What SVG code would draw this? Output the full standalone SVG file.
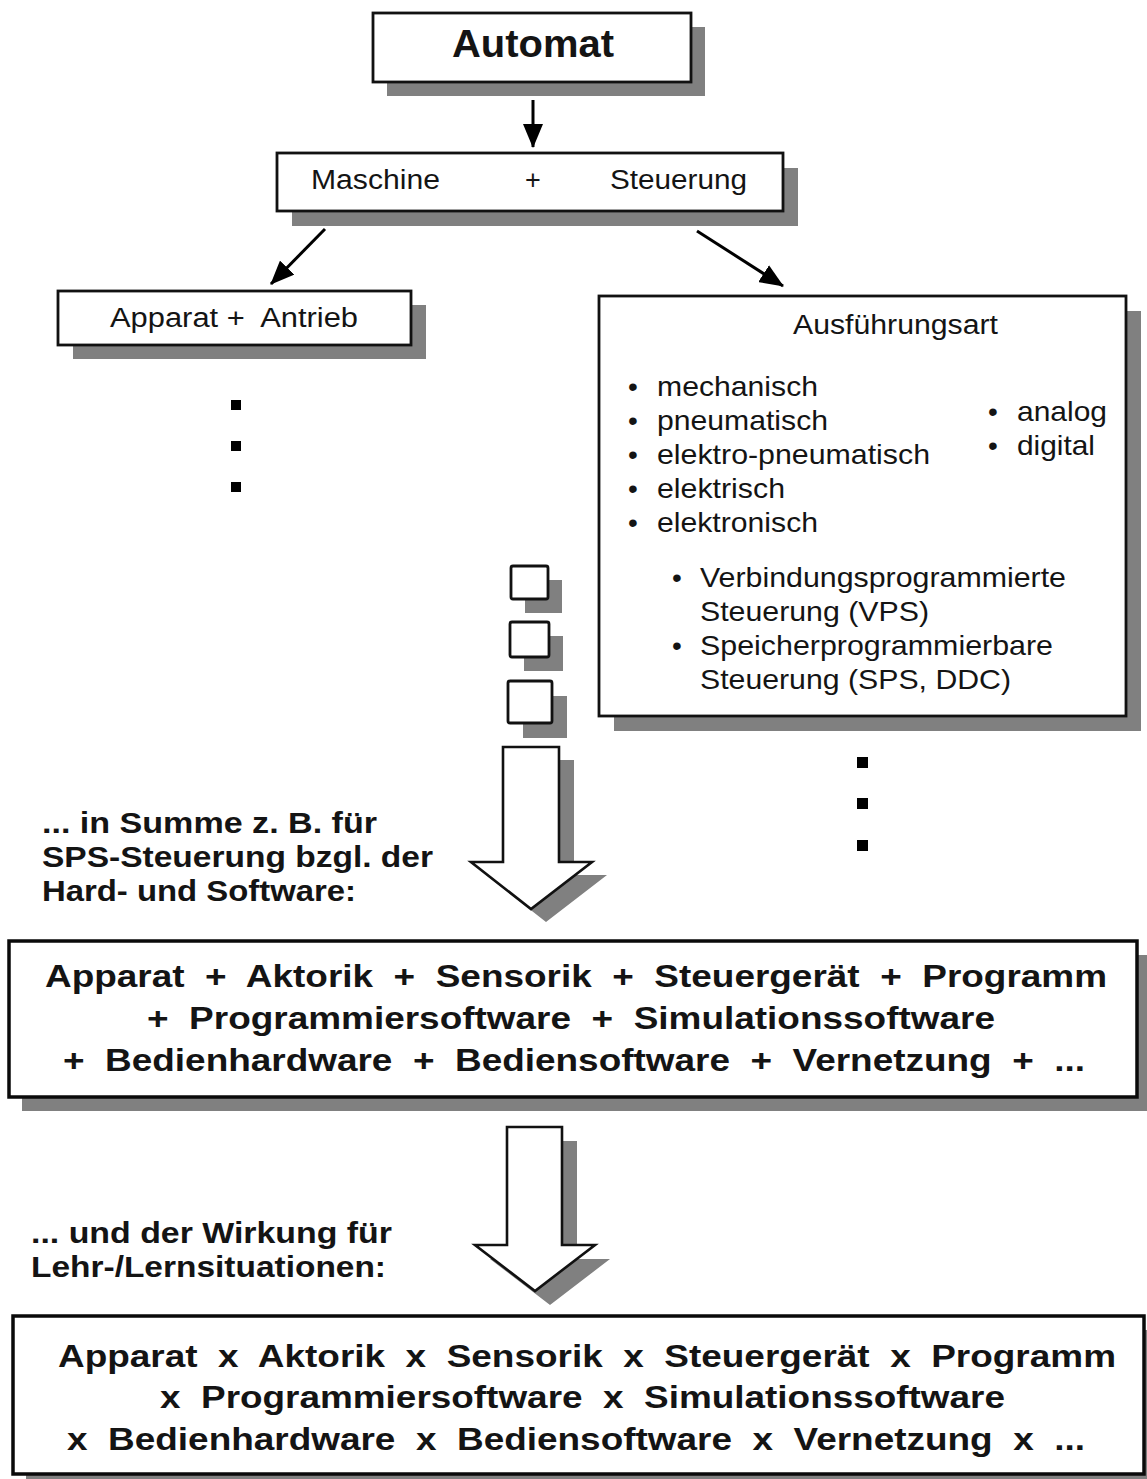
<svg xmlns="http://www.w3.org/2000/svg" width="1147" height="1479" viewBox="0 0 1147 1479">
  <style>
    .bg { fill: #ffffff; }
    .shadow { fill: #808080; stroke: none; }
    .box { fill: #ffffff; stroke: #111111; stroke-width: 2.8; }
    .bigbox { fill: #ffffff; stroke: #0a0a0a; stroke-width: 3.5; }
    .t { font-family: "Liberation Sans", Arial, Helvetica, sans-serif; fill: #141414; }
    .n27 { font-size: 27px; }
    .n28 { font-size: 28px; }
    .b30 { font-size: 30px; font-weight: bold; }
    .b31 { font-size: 31px; font-weight: bold; }
    .b38 { font-size: 38px; font-weight: bold; }
    .conn { stroke: #000000; stroke-width: 3; fill: none; }
    .dot { fill: #000000; }
    .hollow { fill: #ffffff; stroke: #111111; stroke-width: 2.6; stroke-linejoin: miter; }
  </style>
  <defs>
    <marker id="head" viewBox="0 0 24 20" refX="23" refY="10" markerWidth="24" markerHeight="20" markerUnits="userSpaceOnUse" orient="auto">
      <path d="M0,0 L24,10 L0,20 z" fill="#000000"/>
    </marker>
  </defs>

  <rect class="bg" x="0" y="0" width="1147" height="1479"/>

  <!-- top node -->
  <g id="node-automat">
    <rect class="shadow" x="387" y="27" width="318" height="69"/>
    <rect class="box" x="373" y="13" width="318" height="69"/>
    <text class="t b38" x="452" y="57" textLength="162" lengthAdjust="spacingAndGlyphs">Automat</text>
  </g>

  <g id="node-maschine-steuerung">
    <rect class="shadow" x="292" y="168" width="506" height="58"/>
    <rect class="box" x="277" y="153" width="506" height="58"/>
    <text class="t n27" x="311" y="189" textLength="129" lengthAdjust="spacingAndGlyphs">Maschine</text>
    <text class="t n27" x="533" y="189" text-anchor="middle">+</text>
    <text class="t n27" x="610" y="189" textLength="137" lengthAdjust="spacingAndGlyphs">Steuerung</text>
  </g>

  <g id="node-apparat-antrieb">
    <rect class="shadow" x="73" y="305" width="353" height="54"/>
    <rect class="box" x="58" y="291" width="353" height="54"/>
    <text class="t n27" x="110" y="327" textLength="248" lengthAdjust="spacingAndGlyphs" xml:space="preserve">Apparat +  Antrieb</text>
  </g>

  <g id="dots-left">
    <rect class="dot" x="231" y="400" width="10" height="10"/>
    <rect class="dot" x="231" y="441" width="10" height="10"/>
    <rect class="dot" x="231" y="482" width="10" height="10"/>
  </g>

  <g id="node-ausfuehrungsart">
    <rect class="shadow" x="614" y="311" width="527" height="420"/>
    <rect class="box" x="599" y="296" width="527" height="420"/>
    <text class="t n27" x="793" y="334" textLength="205" lengthAdjust="spacingAndGlyphs">Ausführungsart</text>
    <g class="t n28">
      <text x="628" y="396">•</text>
      <text x="628" y="430">•</text>
      <text x="628" y="464">•</text>
      <text x="628" y="498">•</text>
      <text x="628" y="532">•</text>
      <text x="657" y="396" textLength="161" lengthAdjust="spacingAndGlyphs">mechanisch</text>
      <text x="657" y="430" textLength="171" lengthAdjust="spacingAndGlyphs">pneumatisch</text>
      <text x="657" y="464" textLength="273" lengthAdjust="spacingAndGlyphs">elektro-pneumatisch</text>
      <text x="657" y="498" textLength="128" lengthAdjust="spacingAndGlyphs">elektrisch</text>
      <text x="657" y="532" textLength="161" lengthAdjust="spacingAndGlyphs">elektronisch</text>
      <text x="988" y="421">•</text>
      <text x="988" y="455">•</text>
      <text x="1017" y="421" textLength="90" lengthAdjust="spacingAndGlyphs">analog</text>
      <text x="1017" y="455" textLength="78" lengthAdjust="spacingAndGlyphs">digital</text>
      <text x="672" y="587">•</text>
      <text x="672" y="655">•</text>
      <text x="700" y="587" textLength="366" lengthAdjust="spacingAndGlyphs">Verbindungsprogrammierte</text>
      <text x="700" y="621" textLength="229" lengthAdjust="spacingAndGlyphs">Steuerung (VPS)</text>
      <text x="700" y="655" textLength="353" lengthAdjust="spacingAndGlyphs">Speicherprogrammierbare</text>
      <text x="700" y="689" textLength="311" lengthAdjust="spacingAndGlyphs">Steuerung (SPS, DDC)</text>
    </g>
  </g>

  <g id="dots-right">
    <rect class="dot" x="857" y="757" width="11" height="11"/>
    <rect class="dot" x="857" y="798" width="11" height="11"/>
    <rect class="dot" x="857" y="840" width="11" height="11"/>
  </g>

  <!-- stacked small blocks -->
  <g id="blocks">
    <rect class="shadow" x="525" y="580" width="37" height="33"/>
    <rect class="box" x="511" y="566" width="37" height="33" rx="2"/>
    <rect class="shadow" x="524" y="636" width="39" height="35"/>
    <rect class="box" x="510" y="622" width="39" height="35" rx="2"/>
    <rect class="shadow" x="523" y="696" width="44" height="42"/>
    <rect class="box" x="508" y="681" width="44" height="42" rx="2"/>
  </g>

  <g id="summe-label" class="t b30">
    <text x="42" y="833" textLength="335" lengthAdjust="spacingAndGlyphs">... in Summe z. B. für</text>
    <text x="42" y="867" textLength="391" lengthAdjust="spacingAndGlyphs">SPS-Steuerung bzgl. der</text>
    <text x="42" y="901" textLength="314" lengthAdjust="spacingAndGlyphs">Hard- und Software:</text>
  </g>

  <g id="node-summe">
    <rect class="shadow" x="22" y="955" width="1128" height="156"/>
    <rect class="bigbox" x="9" y="941" width="1128" height="156"/>
    <g class="t b31">
      <text x="45" y="987" textLength="1062" lengthAdjust="spacingAndGlyphs" xml:space="preserve">Apparat  +  Aktorik  +  Sensorik  +  Steuergerät  +  Programm</text>
      <text x="147" y="1029" textLength="848" lengthAdjust="spacingAndGlyphs" xml:space="preserve">+  Programmiersoftware  +  Simulationssoftware</text>
      <text x="63" y="1071" textLength="1022" lengthAdjust="spacingAndGlyphs" xml:space="preserve">+  Bedienhardware  +  Bediensoftware  +  Vernetzung  +  ...</text>
    </g>
  </g>

  <g id="wirkung-label" class="t b30">
    <text x="31" y="1243" textLength="361" lengthAdjust="spacingAndGlyphs">... und der Wirkung für</text>
    <text x="31" y="1277" textLength="355" lengthAdjust="spacingAndGlyphs">Lehr-/Lernsituationen:</text>
  </g>

  <g id="node-wirkung">
    <rect class="shadow" x="26" y="1330" width="1131" height="158"/>
    <rect class="bigbox" x="13" y="1316" width="1131" height="158"/>
    <g class="t b31">
      <text x="58" y="1367" textLength="1058" lengthAdjust="spacingAndGlyphs" xml:space="preserve">Apparat  x  Aktorik  x  Sensorik  x  Steuergerät  x  Programm</text>
      <text x="160" y="1408" textLength="845" lengthAdjust="spacingAndGlyphs" xml:space="preserve">x  Programmiersoftware  x  Simulationssoftware</text>
      <text x="67" y="1450" textLength="1018" lengthAdjust="spacingAndGlyphs" xml:space="preserve">x  Bedienhardware  x  Bediensoftware  x  Vernetzung  x  ...</text>
    </g>
  </g>

  <!-- connectors: thin arrows and the two hollow block arrows -->
  <g id="connectors">
    <line class="conn" x1="533" y1="100" x2="533" y2="147" marker-end="url(#head)"/>
    <line class="conn" x1="325" y1="229" x2="271" y2="284" marker-end="url(#head)"/>
    <line class="conn" x1="697" y1="231" x2="783" y2="286" marker-end="url(#head)"/>

    <polygon class="shadow" points="518,760 574,760 574,875 607,875 546,922 486,875 518,875"/>
    <polygon class="hollow" points="503,747 559,747 559,862 592,862 531,909 471,862 503,862"/>

    <polygon class="shadow" points="522,1141 577,1141 577,1259 610,1259 550,1305 490,1259 522,1259"/>
    <polygon class="hollow" points="507,1127 562,1127 562,1245 595,1245 535,1291 475,1245 507,1245"/>
  </g>
</svg>
